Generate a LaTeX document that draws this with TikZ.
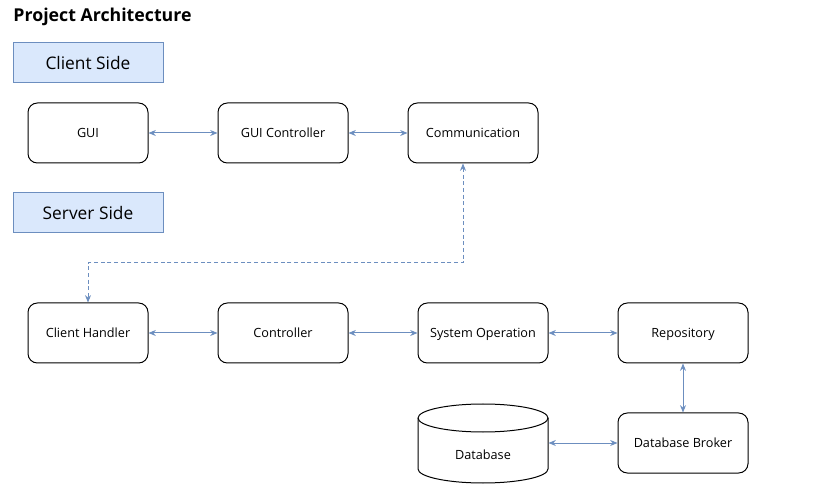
\documentclass[tikz,border=0pt]{standalone}
\usepackage{fontspec}
\setmainfont{Open Sans}
\usetikzlibrary{arrows.meta}
\definecolor{linkblue}{HTML}{6C8EBF}
\definecolor{labelfill}{HTML}{DAE8FC}
\begin{document}
\begin{tikzpicture}[x=0.75pt, y=-0.75pt, line width=0.75pt,
    module/.style={draw, rounded corners=7pt, minimum width=97.5pt, minimum height=45pt, text height=8.2pt, text depth=1pt, font=\fontsize{9.5}{11}\selectfont},
    sidelabel/.style={draw=linkblue, fill=labelfill, minimum width=112.5pt, minimum height=30pt, text height=10.5pt, text depth=1pt, font=\fontsize{13}{15}\selectfont},
    link/.style={draw=linkblue, {Stealth[length=5.5pt,width=4.5pt]}-{Stealth[length=5.5pt,width=4.5pt]}}]
  \useasboundingbox (0,0) rectangle (818,502);
  \node[anchor=west, inner sep=0pt, font=\bfseries\fontsize{13.3}{15}\selectfont] (title) at (13,17) {Project Architecture};
  % client side
  \node[sidelabel] (clientlbl) at (88,63) {Client Side};
  \node[module, minimum width=90pt] (gui) at (88,133) {GUI};
  \node[module] (guictrl) at (283,133) {GUI Controller};
  \node[module] (comm) at (473,133) {Communication};
  % server side
  \node[sidelabel] (serverlbl) at (88,213) {Server Side};
  \node[module, minimum width=90pt] (handler) at (88,333) {Client Handler};
  \node[module] (ctrl) at (283,333) {Controller};
  \node[module] (sysop) at (483,333) {System Operation};
  \node[module] (repo) at (683,333) {Repository};
  \node[module] (broker) at (683,443) {Database Broker};
  % database drum
  \fill[white] (418,418) arc (180:360:65 and 14) -- (548,469) arc (0:180:65 and 14) -- cycle;
  \draw (418,418) arc (180:-180:65 and 14);
  \draw (418,418) -- (418,469) arc (180:0:65 and 14) -- (548,418);
  \node[minimum width=97.5pt, minimum height=60pt, inner sep=0pt] (db) at (483,443) {};
  \node[text height=8.2pt, text depth=1pt, font=\fontsize{9.5}{11}\selectfont] (dblabel) at (483,455) {Database};
  % connectors
  \draw[link] (gui) -- (guictrl);
  \draw[link] (guictrl) -- (comm);
  \draw[link] (handler) -- (ctrl);
  \draw[link] (ctrl) -- (sysop);
  \draw[link] (sysop) -- (repo);
  \draw[link] (repo) -- (broker);
  \draw[link] (db) -- (broker);
  \coordinate (bendA) at (463,263);
  \draw[link, dash pattern=on 3pt off 2pt] (comm.south -| bendA) -- (bendA) -| (handler.north);
\end{tikzpicture}
\end{document}
